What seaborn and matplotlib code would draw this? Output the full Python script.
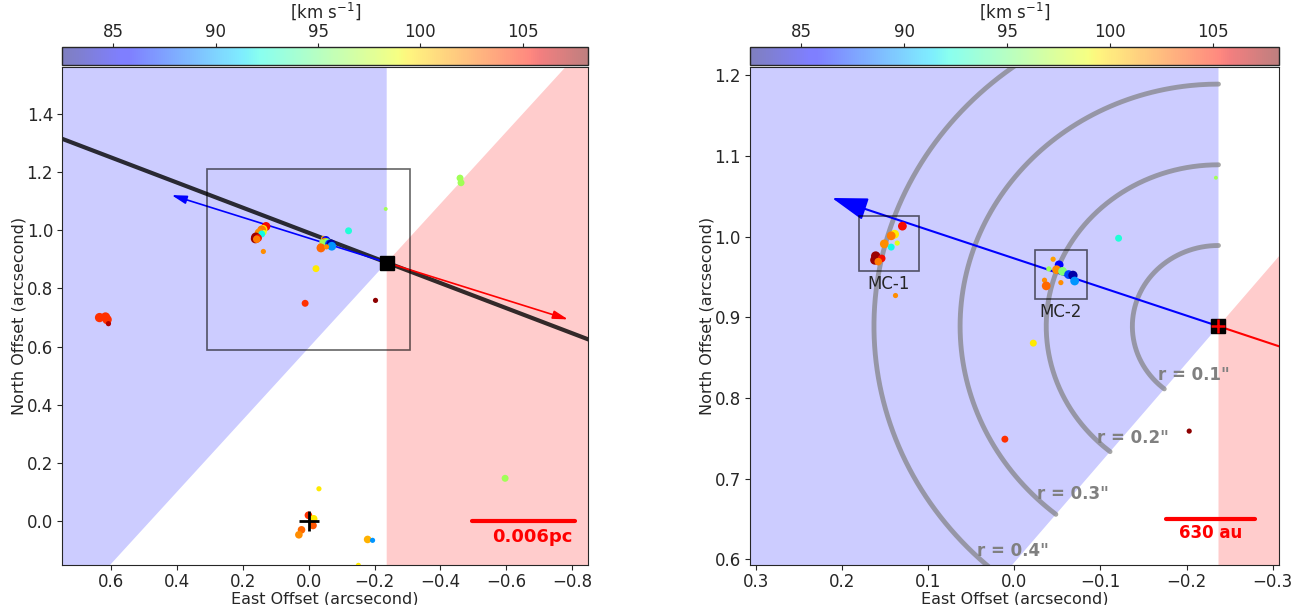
import numpy as np
import pandas as pd
import matplotlib
matplotlib.use("Agg")
import matplotlib.pyplot as plt
from matplotlib.colors import ListedColormap, Normalize
from matplotlib.cm import ScalarMappable
from matplotlib.patches import Rectangle
import seaborn as sns

sns.set_style("ticks")
plt.rcParams['font.family'] = ['DejaVu Sans']
plt.rcParams['xtick.major.size'] = 3.5
plt.rcParams['ytick.major.size'] = 3.5
plt.rcParams['xtick.major.pad'] = 2.5
plt.rcParams['ytick.major.pad'] = 3

# maser spots: offsets (arcsec), velocity (km/s), marker size
src_x = [0.130, 0.139, 0.143, 0.136, 0.151, 0.143, 0.161, 0.162, 0.154, 0.158, 0.138,
         -0.045, -0.052, -0.049, -0.056, -0.040, -0.063, -0.068, -0.070, -0.035, -0.037, -0.054,
         -0.121, -0.022, 0.011, -0.203, -0.234, -0.460, -0.463, -0.597,
         0.636, 0.618, 0.613, 0.609,
         -0.031, 0.001, -0.015, -0.013, 0.022, 0.030, -0.179, -0.194, -0.151]
src_y = [1.013, 1.003, 1.001, 0.992, 0.991, 0.987, 0.976, 0.971, 0.973, 0.969, 0.927,
         0.972, 0.965, 0.959, 0.957, 0.960, 0.953, 0.952, 0.945, 0.946, 0.939, 0.943,
         0.998, 0.868, 0.749, 0.759, 1.073, 1.179, 1.163, 0.148,
         0.700, 0.702, 0.693, 0.679,
         0.112, 0.021, 0.009, -0.014, -0.029, -0.046, -0.062, -0.065, -0.151]
src_v = [105.5, 99.5, 102.5, 98.5, 102.0, 92.0, 107.5, 107.5, 105.5, 102.5, 102.0,
         101.5, 85.5, 102.0, 95.5, 96.5, 87.5, 83.5, 89.5, 102.0, 103.0, 102.0,
         92.5, 99.5, 104.5, 107.8, 96.5, 96.5, 96.5, 96.5,
         104.5, 104.5, 104.5, 107.0,
         99.5, 104.5, 99.5, 103.5, 103.0, 102.0, 101.0, 89.5, 99.5]
src_s = [40, 40, 40, 14, 40, 25, 45, 45, 30, 30, 14,
         14, 40, 40, 40, 14, 40, 45, 40, 14, 40, 14,
         25, 25, 25, 14, 8, 25, 25, 25,
         45, 45, 45, 14,
         14, 30, 30, 30, 30, 30, 30, 14, 14]

vmin, vmax = 82.5, 108.2
cbar_ticks = [85, 90, 95, 100, 105]

# outflow geometry
center = (-0.237, 0.889)
pa_outflow = 70.5
half_open = 70.5
pa_line = 66.7
blue_len_left, red_len_left = 0.694, 0.585
blue_len_right = 0.476

arc_radii = [0.1, 0.2, 0.3, 0.4]
arc_labels = ['r = 0.1"', 'r = 0.2"', 'r = 0.3"', 'r = 0.4"']
arc_label_x = [-0.208, -0.138, -0.068, 0.0015]
arc_label_y = [0.828, 0.751, 0.681, 0.611]

zoom_box = (0.31, -0.307, 0.59, 1.21)
mc_names = ['MC-1', 'MC-2']
mc_boxes = [(0.180, 0.111, 0.957, 1.025), (-0.024, -0.084, 0.923, 0.983)]

df = pd.DataFrame({'x': src_x, 'y': src_y, 'v': src_v, 's': src_s})
jet_a = plt.cm.jet(np.linspace(0, 1, 256))
jet_a[:, 3] = 0.5
cmap_bar = ListedColormap(jet_a)
norm = Normalize(vmin, vmax)


def pa_dir(pa):
    return np.sin(np.radians(pa)), np.cos(np.radians(pa))


def draw_lobes(ax):
    for pa0, pa1, c in [(pa_outflow - half_open, pa_outflow + half_open, 'blue'),
                        (pa_outflow + 180 - half_open, pa_outflow + 180 + half_open, 'red')]:
        pas = np.linspace(pa0, pa1, 200)
        dx, dy = pa_dir(pas)
        px = np.concatenate([[center[0]], center[0] + 5 * dx])
        py = np.concatenate([[center[1]], center[1] + 5 * dy])
        ax.fill(px, py, color=c, alpha=0.2, lw=0, zorder=0)


def draw_spots(ax):
    sns.scatterplot(data=df, x='x', y='y', hue='v', palette=plt.cm.jet, hue_norm=(vmin, vmax),
                    size='s', sizes=(8, 45), size_norm=(8, 45), linewidth=0,
                    legend=False, ax=ax, zorder=4)


def add_cbar(fig, rect):
    cax = fig.add_axes(rect)
    sm = ScalarMappable(norm=norm, cmap=cmap_bar)
    cb = fig.colorbar(sm, cax=cax, orientation='horizontal', ticks=cbar_ticks)
    cax.xaxis.set_ticks_position('top')
    cax.xaxis.set_label_position('top')
    cb.set_label('[km s$^{-1}$]', fontsize=12, labelpad=4)
    cax.tick_params(labelsize=12, length=3, pad=1.5)
    cb.outline.set_linewidth(1)


fig = plt.figure(figsize=(12.93, 6.05), dpi=100)
ax1 = fig.add_axes([0.048, 0.066, 0.407, 0.823])
ax2 = fig.add_axes([0.580, 0.066, 0.409, 0.823])

# ---- left panel: full field ----
draw_lobes(ax1)
t = np.array([-4, 4])
lx, ly = pa_dir(pa_line)
ax1.plot(center[0] + t * lx, center[1] + t * ly, color='black', alpha=0.8, lw=3, zorder=2)
bx, by = pa_dir(pa_outflow)
ax1.annotate('', xy=(center[0] + blue_len_left * bx, center[1] + blue_len_left * by), xytext=center,
             arrowprops=dict(arrowstyle='-|>,head_length=0.9,head_width=0.25', color='blue',
                             lw=1.2, mutation_scale=10, shrinkA=0, shrinkB=0), zorder=3)
rx, ry = pa_dir(pa_outflow + 180)
ax1.annotate('', xy=(center[0] + red_len_left * rx, center[1] + red_len_left * ry), xytext=center,
             arrowprops=dict(arrowstyle='-|>,head_length=0.9,head_width=0.25', color='red',
                             lw=1.2, mutation_scale=10, shrinkA=0, shrinkB=0), zorder=3)
x0, x1, y0, y1 = zoom_box
ax1.add_patch(Rectangle((x1, y0), x0 - x1, y1 - y0, fill=False, ec='black', alpha=0.6, lw=1.2, zorder=3))
draw_spots(ax1)
ax1.plot(*center, 's', color='black', ms=10, zorder=5)
ax1.plot(0, 0, '+', color='black', ms=14, mew=2, zorder=5)
ax1.plot([-0.497, -0.810], [0.0, 0.0], color='red', lw=3, zorder=5)
ax1.text(-0.679, -0.052, '0.006pc', color='red', fontsize=13, fontweight='bold', ha='center', va='center')
ax1.set_xlim(0.75, -0.85)
ax1.set_ylim(-0.15, 1.56)
ax1.set_xlabel('East Offset (arcsecond)', fontsize=11.5, labelpad=0)
ax1.set_ylabel('North Offset (arcsecond)', fontsize=11.5, labelpad=0)
ax1.tick_params(labelsize=12)

# ---- right panel: zoom ----
draw_lobes(ax2)
for r in arc_radii:
    pas = np.linspace(0, pa_outflow + half_open, 200)
    dx, dy = pa_dir(pas)
    ax2.plot(center[0] + r * dx, center[1] + r * dy, color='gray', alpha=0.7, lw=3.5, zorder=1)
for lab, tx, ty in zip(arc_labels, arc_label_x, arc_label_y):
    ax2.text(tx, ty, lab, color='gray', fontsize=12, fontweight='bold', ha='center', va='center', zorder=2)
ax2.annotate('', xy=(center[0] + blue_len_right * bx, center[1] + blue_len_right * by), xytext=center,
             arrowprops=dict(arrowstyle='-|>,head_length=1.1,head_width=0.35', color='blue',
                             lw=1.5, mutation_scale=20, shrinkA=0, shrinkB=0), zorder=3)
ax2.plot([center[0], center[0] + red_len_left * rx], [center[1], center[1] + red_len_left * ry],
         color='red', lw=1.5, zorder=3)
for name, (bx0, bx1, by0, by1) in zip(mc_names, mc_boxes):
    ax2.add_patch(Rectangle((bx1, by0), bx0 - bx1, by1 - by0, fill=False, ec='black', alpha=0.6, lw=1.2, zorder=3))
    ax2.text((bx0 + bx1) / 2, by0 - 0.005, name, fontsize=12, ha='center', va='top')
draw_spots(ax2)
ax2.plot(*center, 's', color='black', ms=10, zorder=5)
ax2.plot(*center, '+', color='red', ms=10, mew=1.8, zorder=6)
ax2.plot([-0.176, -0.279], [0.6506, 0.6506], color='red', lw=3, zorder=5)
ax2.text(-0.2275, 0.633, '630 au', color='red', fontsize=12, fontweight='bold', ha='center', va='center')
ax2.set_xlim(0.307, -0.307)
ax2.set_ylim(0.593, 1.21)
ax2.set_xlabel('East Offset (arcsecond)', fontsize=11.5, labelpad=0)
ax2.set_ylabel('North Offset (arcsecond)', fontsize=11.5, labelpad=0)
ax2.tick_params(labelsize=12)

add_cbar(fig, [0.048, 0.892, 0.407, 0.030])
add_cbar(fig, [0.580, 0.892, 0.409, 0.030])

fig.savefig('out.png', dpi=100)
